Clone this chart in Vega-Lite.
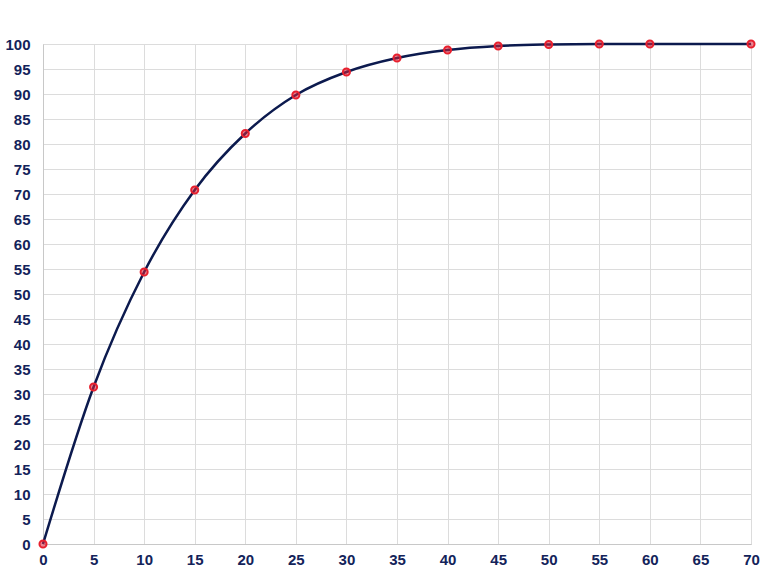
{
  "$schema": "https://vega.github.io/schema/vega-lite/v6.json",
  "autosize": {"type": "none"},
  "width": 708,
  "height": 500,
  "padding": {"left": 43, "top": 44, "right": 17, "bottom": 27},
  "background": "white",
  "config": {
    "view": {"stroke": "#c8c8c8", "strokeWidth": 1},
    "axis": {
      "labelFont": "Liberation Sans",
      "labelFontWeight": "bold",
      "labelFontSize": 15,
      "labelColor": "#13235a",
      "gridColor": "#dcdcdc",
      "gridWidth": 1,
      "domainColor": "#c8c8c8",
      "ticks": false,
      "title": null
    }
  },
  "data": {
    "values": [
      {"x": 0, "y": 0},
      {"x": 5, "y": 31.4},
      {"x": 10, "y": 54.4},
      {"x": 15, "y": 70.8},
      {"x": 20, "y": 82.1},
      {"x": 25, "y": 89.8},
      {"x": 30, "y": 94.4},
      {"x": 35, "y": 97.2},
      {"x": 40, "y": 98.8},
      {"x": 45, "y": 99.6},
      {"x": 50, "y": 99.9},
      {"x": 55, "y": 100},
      {"x": 60, "y": 100},
      {"x": 70, "y": 100}
    ]
  },
  "encoding": {
    "x": {
      "field": "x", "type": "quantitative",
      "scale": {"domain": [0, 70], "nice": false, "zero": false},
      "axis": {"values": [0,5,10,15,20,25,30,35,40,45,50,55,60,65,70], "labelPadding": 8, "labelFlush": false}
    },
    "y": {
      "field": "y", "type": "quantitative",
      "scale": {"domain": [0, 100], "nice": false},
      "axis": {"values": [0,5,10,15,20,25,30,35,40,45,50,55,60,65,70,75,80,85,90,95,100], "labelPadding": 13}
    }
  },
  "layer": [
    {"mark": {"type": "line", "interpolate": "monotone", "color": "#0c1a4e", "strokeWidth": 2.5}},
    {"mark": {"type": "point", "filled": true, "size": 50, "fill": "#d82038", "fillOpacity": 0.55, "stroke": "#e8202e", "strokeWidth": 2, "strokeOpacity": 1}}
  ]
}
